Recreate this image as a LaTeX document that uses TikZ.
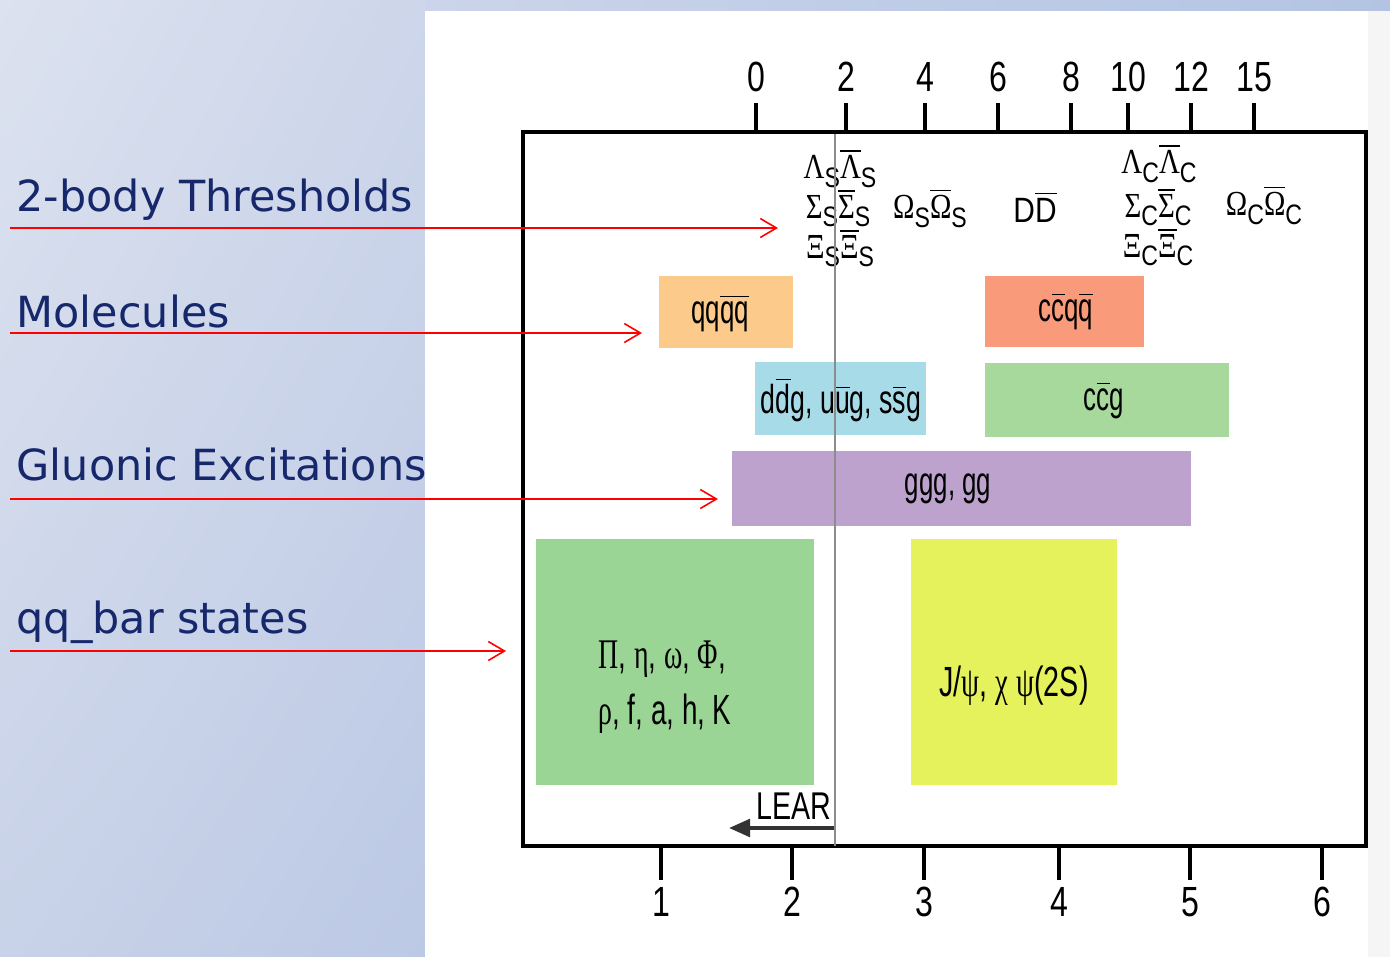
\documentclass[tikz,border=0pt]{standalone}
\usepackage{fontspec}
\usepackage{graphicx}
\newfontfamily\hel{Liberation Sans}
\newfontfamily\grk{Liberation Serif}
\newfontfamily\dvs{DejaVu Sans}
\usetikzlibrary{arrows.meta,shadings}
\definecolor{navy}{HTML}{16286B}
\definecolor{cOrange}{HTML}{FCCB8C}
\definecolor{cSalmon}{HTML}{F99B7B}
\definecolor{cBlue}{HTML}{A8DBE8}
\definecolor{cGreenA}{HTML}{A8D99C}
\definecolor{cPurple}{HTML}{BCA2CC}
\definecolor{cGreenB}{HTML}{9BD596}
\definecolor{cYellow}{HTML}{E5F25C}
\definecolor{bgTL}{HTML}{DCE2EF}
\definecolor{bgTR}{HTML}{CDD6EA}
\definecolor{bgBL}{HTML}{C8D2E8}
\definecolor{bgBR}{HTML}{BCC9E5}
\definecolor{stripL}{HTML}{CBD4EA}
\definecolor{stripR}{HTML}{B3C4E3}
\newcommand\nar[2][0.64]{\scalebox{#1}[1]{#2}}
\newcommand\ob[1]{$\overline{\hbox{#1}}$}
\newcommand\lsub[1]{\raisebox{-0.5ex}{\fontsize{8}{8}\selectfont\hel #1}}
\newcommand\gpair[2]{{\grk #1}\lsub{#2}\ob{\grk #1}\lsub{#2}}
\tikzset{
  x=0.01cm, y=-0.01cm,
  lefttext/.style={anchor=base west, text=navy, font=\dvs\fontsize{12.2}{14}\selectfont, inner sep=0},
  redarrow/.style={draw=red, line width=0.45pt, -{Straight Barb[length=4.6pt,width=5.4pt,line width=0.45pt]}},
  colbox/.style={anchor=north west, inner sep=0, outer sep=0},
  boxtext/.style={font=\hel\fontsize{11.5}{13}\selectfont, inner sep=0},
  axnum/.style={font=\hel\fontsize{12}{14}\selectfont, inner sep=0},
  thr/.style={font=\grk\fontsize{10}{12}\selectfont, inner sep=0},
  tickline/.style={line width=0.9pt},
}
\begin{document}
\begin{tikzpicture}
\useasboundingbox (0,0) rectangle (1390,957);
% background
\shade[upper left=bgTL, upper right=bgTR, lower left=bgBL, lower right=bgBR] (0,0) rectangle (425,957);
\shade[left color=stripL, right color=stripR] (425,0) rectangle (1390,11);
\fill[white] (425,11) rectangle (1368,957);
\fill[black!4] (1368,11) rectangle (1390,957);

% coloured boxes
\node[colbox, fill=cOrange, minimum width=1.34cm, minimum height=0.72cm] (mol1) at (659,276) {};
\node[colbox, fill=cSalmon, minimum width=1.59cm, minimum height=0.71cm] (mol2) at (985,276) {};
\node[colbox, fill=cBlue, minimum width=1.71cm, minimum height=0.73cm] (hyb1) at (755,362) {};
\node[colbox, fill=cGreenA, minimum width=2.44cm, minimum height=0.74cm] (hyb2) at (985,363) {};
\node[colbox, fill=cPurple, minimum width=4.59cm, minimum height=0.75cm] (glue) at (732,451) {};
\node[colbox, fill=cGreenB, minimum width=2.78cm, minimum height=2.46cm] (light) at (536,539) {};
\node[colbox, fill=cYellow, minimum width=2.06cm, minimum height=2.46cm] (charm) at (911,539) {};

\node[boxtext] (mol1t) at (720,313) {\nar{qq\ob{qq}}};
\node[boxtext] (mol2t) at (1066,311) {\nar{c\ob{c}q\ob{q}}};
\node[boxtext] (hyb1t) at (841,400) {\nar[0.66]{d\ob{d}g, u\ob{u}g, s\ob{s}g}};
\node[boxtext] (hyb2t) at (1104,400) {\nar{c\ob{c}g}};
\node[boxtext] (gluet) at (948,489) {\nar{ggg, gg}};
\node[font=\fontsize{12}{12.8}\selectfont, align=left, inner sep=0] (lighttxt) at (665,687)
  {\nar[0.66]{{\grk Π}\hel, {\grk η}\hel, {\grk ω}\hel, {\grk Φ}\hel,}\\[3pt]\nar[0.66]{{\grk ρ}\hel, f, a, h, K}};
\node[font=\fontsize{12}{14}\selectfont, inner sep=0] (charmtxt) at (1014,686)
  {\nar[0.68]{\hel J/{\grk ψ}, {\grk χ} {\grk ψ}(2S)}};

% frame
\draw[line width=1.2pt] (523,132) rectangle (1366,846);

% top axis
\foreach \xx/\lab/\nm in {756/0/a,846/2/b,925/4/c,998/6/d,1071/8/e,1128/10/f,1191/12/g,1254/15/h}{
  \draw[tickline] (\xx,103) -- (\xx,132);
  \node[axnum] (top\nm) at (\xx,77) {\nar[0.76]{\lab}};
}
% bottom axis
\foreach \xx/\lab/\nm in {661/1/a,792/2/b,924/3/c,1059/4/d,1190/5/e,1322/6/f}{
  \draw[tickline] (\xx,846) -- (\xx,880);
  \node[axnum] (bot\nm) at (\xx,902) {\nar[0.76]{\lab}};
}

% thresholds
\node[thr] (ls) at (840,168) {\nar[0.82]{\gpair{Λ}{S}}};
\node[thr] (ss) at (838,208) {\nar[0.82]{\gpair{Σ}{S}}};
\node[thr] (xs) at (840,248) {\nar[0.82]{\gpair{Ξ}{S}}};
\node[thr] (os) at (930,208) {\nar[0.82]{\gpair{Ω}{S}}};
\node[thr, font=\hel\fontsize{10}{12}\selectfont] (dd) at (1035,207) {\nar[0.85]{D\ob{D}}};
\node[thr] (lc) at (1159,163) {\nar[0.82]{\gpair{Λ}{C}}};
\node[thr] (sc) at (1158,207) {\nar[0.82]{\gpair{Σ}{C}}};
\node[thr] (xc) at (1158,247) {\nar[0.82]{\gpair{Ξ}{C}}};
\node[thr] (oc) at (1264,205) {\nar[0.82]{\gpair{Ω}{C}}};

% LEAR
\node[font=\hel\fontsize{11}{13}\selectfont, inner sep=0] (lear) at (794,806) {\nar[0.74]{LEAR}};
\coordinate (learS) at (835,828);
\coordinate (learE) at (729,828);
\draw[line width=1.1pt, black!80, -{Triangle[length=6pt,width=5pt]}] (learS) -- (learE);

% threshold line
\coordinate (vtop) at (835,134);
\coordinate (vbot) at (835,846);
\draw[black!45, line width=0.4pt] (vtop) -- (vbot);

% left labels
\node[lefttext] (l1) at (16,211) {2-body Thresholds};
\node[lefttext] (l2) at (16,327) {Molecules};
\node[lefttext] (l3) at (16,480) {Gluonic Excitations};
\node[lefttext] (l4) at (16,633) {qq\_bar states};

\coordinate (s1) at (10,228); \coordinate (e1) at (778,228);
\coordinate (s2) at (10,333); \coordinate (e2) at (642,333);
\coordinate (s3) at (10,499); \coordinate (e3) at (718,499);
\coordinate (s4) at (10,651); \coordinate (e4) at (506,651);
\draw[redarrow] (s1) -- (e1);
\draw[redarrow] (s2) -- (e2);
\draw[redarrow] (s3) -- (e3);
\draw[redarrow] (s4) -- (e4);
\end{tikzpicture}
\end{document}
